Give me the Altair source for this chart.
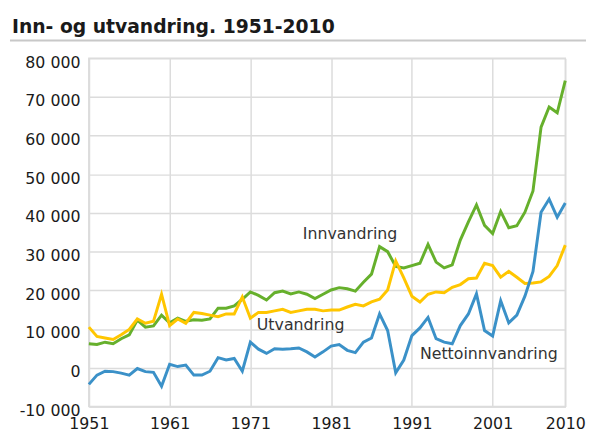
import altair as alt
import pandas as pd

years = list(range(1951, 2011))

innvandring = [6200, 6000, 6600, 6200, 7500, 8500, 12300, 10500, 10800, 13600,
               11600, 12800, 12000, 12400, 12300, 12600, 15400, 15400, 16000, 17700,
               19600, 18700, 17500, 19400, 19800, 19100, 19600, 19000, 17900, 19000,
               20100, 20700, 20400, 19800, 22100, 24200, 31300, 30000, 26200, 25800,
               26400, 27000, 31900, 27300, 25800, 26600, 33000, 37700, 42100, 36800,
               34700, 40400, 36200, 36700, 40200, 45700, 62200, 67400, 65900, 74200]

utvandring = [10500, 8100, 7700, 7300, 8500, 9900, 12600, 11500, 12000, 19000,
              10900, 12600, 11500, 14300, 14000, 13600, 13200, 13900, 13900, 18300,
              12800, 14300, 14300, 14700, 15100, 14300, 14700, 15100, 15100, 14700,
              14900, 14900, 15700, 16400, 16000, 17000, 17700, 20100, 27600, 23200,
              18500, 17000, 19000, 19600, 19400, 20800, 21500, 23000, 23200, 27000,
              26400, 23400, 24900, 23400, 21800, 21900, 22200, 23600, 26400, 31700]

netto = [-4300, -1900, -900, -1000, -1400, -1900, -200, -1000, -1200, -4800,
         900, 300, 700, -1900, -1900, -900, 2600, 2000, 2400, -900,
         6600, 4800, 3700, 4900, 4800, 4900, 5100, 4100, 2800, 4100,
         5600, 6000, 4500, 3900, 6600, 7700, 13900, 9600, -1300, 2000,
         8300, 10300, 13000, 7500, 6600, 6200, 10900, 13900, 19100, 9600,
         8200, 17300, 11600, 13600, 18500, 24900, 40200, 43600, 38900, 42600]

series_names = ["Innvandring", "Utvandring", "Nettoinnvandring"]
series_colors = ["#66b02c", "#ffc600", "#3b91c8"]

label_text = ["Innvandring", "Utvandring", "Nettoinnvandring"]
label_year = [1977.5, 1971.8, 1992.0]
label_value = [33300, 9700, 2300]

x_ticks = [1951, 1961, 1971, 1981, 1991, 2001, 2010]
y_ticks = [-10000, 0, 10000, 20000, 30000, 40000, 50000, 60000, 70000, 80000]

rows = []
for name, vals in zip(series_names, [innvandring, utvandring, netto]):
    for yr, v in zip(years, vals):
        rows.append({"year": yr, "value": v, "series": name})
df = pd.DataFrame(rows)

df_lab = pd.DataFrame({"label": label_text, "year": label_year, "value": label_value})

grid_col = "#dcdcdc"
label_expr = ("datum.value < 0 ? '-' + replace(format(-datum.value, ','), ',', ' ') "
              ": replace(format(datum.value, ','), ',', ' ')")

x_enc = alt.X("year:Q",
              scale=alt.Scale(domain=[1951, 2010], zero=False, nice=False),
              axis=alt.Axis(values=x_ticks, format="d", title=None, ticks=False,
                            labelFont="DejaVu Sans", labelFontSize=16, labelColor="#1a1a1a",
                            labelPadding=9, grid=True, gridColor=grid_col, gridWidth=1.5,
                            domainColor=grid_col, domainWidth=1.5, labelFlush=False,
                            labelOverlap=False))
y_enc = alt.Y("value:Q",
              scale=alt.Scale(domain=[-10000, 80000], nice=False, zero=False),
              axis=alt.Axis(values=y_ticks, labelExpr=label_expr, title=None, ticks=False,
                            labelFont="DejaVu Sans", labelFontSize=16, labelColor="#1a1a1a",
                            labelPadding=9, labelOffset=4, grid=True, gridColor=grid_col,
                            gridWidth=1.5, domainColor=grid_col, domainWidth=1.5,
                            labelOverlap=False, labelFlush=False))

lines = alt.Chart(df).mark_line(strokeWidth=3).encode(
    x=x_enc,
    y=y_enc,
    color=alt.Color("series:N", scale=alt.Scale(domain=series_names, range=series_colors),
                    legend=None),
    detail="series:N",
)

texts = alt.Chart(df_lab).mark_text(
    align="left", baseline="alphabetic", font="DejaVu Sans", fontSize=16, color="#333333"
).encode(
    x=x_enc,
    y=y_enc,
    text="label:N",
)

underline = alt.Chart(pd.DataFrame({"a": [0]})).mark_rule(
    color="#c8c8c8", strokeWidth=2
).encode(x=alt.value(-80), x2=alt.value(505), y=alt.value(-18))

chart = alt.layer(lines, texts, underline).properties(
    width=483,
    height=353,
    autosize=alt.AutoSizeParams(type="none"),
    padding={"left": 82, "top": 48, "right": 21, "bottom": 23},
    title=alt.TitleParams(
        text="Inn- og utvandring. 1951-2010",
        anchor="start", frame="group", dx=-78, offset=3,
        font="DejaVu Sans", fontSize=19, fontWeight="bold", color="#1a1a1a",
    ),
).configure_view(stroke=grid_col, strokeWidth=1.5)

chart.save("out.html", embed_options={"renderer": "svg", "actions": False})
